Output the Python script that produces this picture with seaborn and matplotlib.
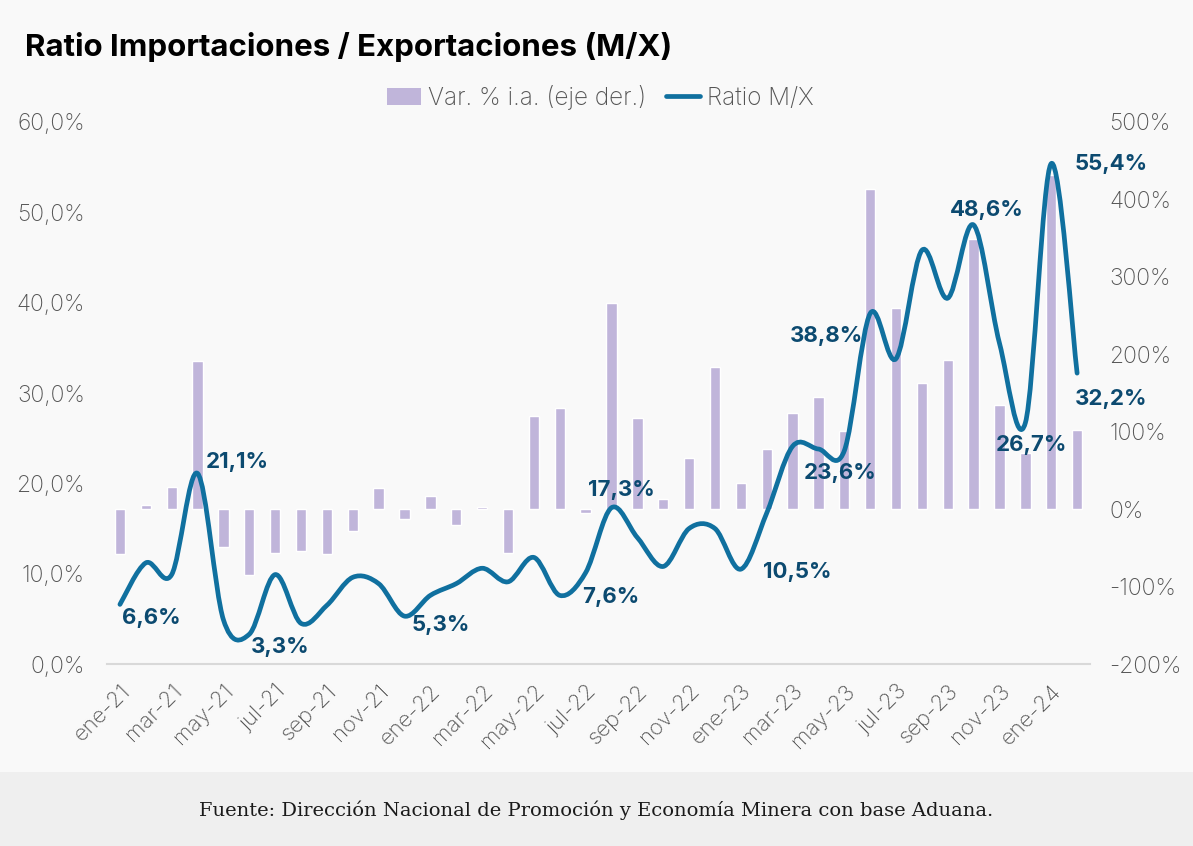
import matplotlib
matplotlib.use('Agg')
import matplotlib.pyplot as plt
import seaborn as sns
from matplotlib.path import Path
from matplotlib.patches import PathPatch, Patch
from matplotlib.lines import Line2D
from matplotlib.ticker import FuncFormatter, FixedLocator

MONTHS = ['ene-21', 'feb-21', 'mar-21', 'abr-21', 'may-21', 'jun-21', 'jul-21', 'ago-21',
          'sep-21', 'oct-21', 'nov-21', 'dic-21',
          'ene-22', 'feb-22', 'mar-22', 'abr-22', 'may-22', 'jun-22', 'jul-22', 'ago-22',
          'sep-22', 'oct-22', 'nov-22', 'dic-22',
          'ene-23', 'feb-23', 'mar-23', 'abr-23', 'may-23', 'jun-23', 'jul-23', 'ago-23',
          'sep-23', 'oct-23', 'nov-23', 'dic-23',
          'ene-24', 'feb-24']

# Ratio M/X (%), left axis
RATIO_MX = [6.6, 11.2, 9.9, 21.1, 4.9, 3.3, 9.9, 4.5, 6.5, 9.6, 8.9, 5.3,
            7.6, 8.9, 10.6, 9.1, 11.8, 7.6, 10.1, 17.3, 14.0, 10.8, 15.0, 15.0,
            10.5, 16.7, 24.1, 23.8, 23.6, 38.8, 33.8, 45.8, 40.5, 48.6, 35.5, 26.7,
            55.4, 32.2]

# Var. % i.a. (right axis)
VAR_IA = [-58, 6, 29, 191, -49, -85, -56, -54, -58, -28, 27, -13,
          17, -21, 3, -57, 120, 130, -5, 266, 118, 13, 66, 184,
          34, 78, 124, 145, 101, 413, 260, 163, 193, 349, 134, 72,
          431, 102]

# points that carry a data label
LABELED = [0, 3, 5, 11, 17, 19, 24, 28, 29, 33, 35, 36, 37]

BAR_COLOR = '#c0b5da'
LINE_COLOR = '#10709f'
LABEL_COLOR = '#0c4a70'
TICK_COLOR = '#555555'
BG = '#f9f9f9'

# label offsets in pixels (dx, dy)
LABEL_OFFSETS = {0: (31, -14), 3: (40, 11), 5: (31, -13), 11: (36, -9), 17: (51, -2),
                 19: (10, 18), 24: (56, -3), 28: (-4, -22), 29: (-44, -22),
                 33: (13, 15), 35: (6, -22), 36: (60, 0), 37: (34, -26)}


def smooth_path(xs, ys):
    """Excel-like smoothed line: cubic Bezier segments through every point."""
    pts = list(zip(xs, ys))
    n = len(pts)
    verts = [pts[0]]
    codes = [Path.MOVETO]
    for i in range(n - 1):
        p0 = pts[i - 1] if i > 0 else pts[i]
        p1 = pts[i]
        p2 = pts[i + 1]
        p3 = pts[i + 2] if i + 2 < n else pts[i + 1]
        c1 = (p1[0] + (p2[0] - p0[0]) / 6, p1[1] + (p2[1] - p0[1]) / 6)
        c2 = (p2[0] - (p3[0] - p1[0]) / 6, p2[1] - (p3[1] - p1[1]) / 6)
        verts += [c1, c2, p2]
        codes += [Path.CURVE4] * 3
    return Path(verts, codes)


def fmt_left(v, pos):
    return f'{v:.1f}%'.replace('.', ',')


def fmt_right(v, pos):
    return f'{v:.0f}%'


sns.set_theme(style='white')
plt.rcParams['font.family'] = ['Inter', 'DejaVu Sans']

fig = plt.figure(figsize=(11.93, 8.46), dpi=100, facecolor=BG)
ax = fig.add_axes([0.0897, 0.2151, 0.8240, 0.6407])
ax2 = ax.twinx()

# bars on the right axis
sns.barplot(x=list(range(len(MONTHS))), y=VAR_IA, ax=ax2, color=BAR_COLOR,
            width=0.4, saturation=1)
ax2.set_ylim(-200, 500)
ax2.yaxis.set_major_locator(FixedLocator(list(range(-200, 501, 100))))
ax2.yaxis.set_major_formatter(FuncFormatter(fmt_right))
ax2.set_ylabel('')

# smoothed ratio line on the left axis, drawn above the bars
ax.set_zorder(ax2.get_zorder() + 1)
ax.patch.set_visible(False)
ax2.patch.set_facecolor(BG)
xs = list(range(len(MONTHS)))
ax.add_patch(PathPatch(smooth_path(xs, RATIO_MX), facecolor='none',
                       edgecolor=LINE_COLOR, linewidth=3.4, capstyle='round',
                       joinstyle='round'))
ax.set_ylim(0, 60)
ax.set_xlim(-0.5, len(MONTHS) - 0.5)
ax2.set_xlim(-0.5, len(MONTHS) - 0.5)
ax.yaxis.set_major_locator(FixedLocator(list(range(0, 61, 10))))
ax.yaxis.set_major_formatter(FuncFormatter(fmt_left))

for i in LABELED:
    dx, dy = LABEL_OFFSETS[i]
    ax.annotate(f'{RATIO_MX[i]:.1f}%'.replace('.', ','), xy=(i, RATIO_MX[i]),
                xytext=(dx, dy), textcoords='offset pixels', ha='center', va='center',
                fontsize=16, fontweight='bold', color=LABEL_COLOR)

ax.set_xticks(xs[::2])
ax.set_xticklabels(MONTHS[::2], rotation=45, ha='right', rotation_mode='anchor')
ax2.tick_params(axis='x', bottom=False, labelbottom=False)

for a in (ax, ax2):
    for s in a.spines.values():
        s.set_visible(False)
ax.spines['bottom'].set_visible(True)
ax.spines['bottom'].set_color('#d9d9d9')
ax.spines['bottom'].set_linewidth(1.5)

ax.tick_params(axis='y', labelsize=16.5, labelcolor=TICK_COLOR, length=0, pad=16)
ax.tick_params(axis='x', labelsize=16, labelcolor=TICK_COLOR, length=0, pad=12)
ax2.tick_params(axis='y', labelsize=16.5, labelcolor=TICK_COLOR, length=0, pad=14)
for lab in ax.get_yticklabels() + ax.get_xticklabels() + ax2.get_yticklabels():
    lab.set_fontweight('light')

fig.text(0.021, 0.945, 'Ratio Importaciones / Exportaciones (M/X)', fontsize=22.5,
         fontweight='bold', color='black', ha='left', va='center')

handles = [Patch(facecolor=BAR_COLOR, edgecolor='none'),
           Line2D([0], [0], color=LINE_COLOR, linewidth=3.4, solid_capstyle='round')]
fig.legend(handles, ['Var. % i.a. (eje der.)', 'Ratio M/X'], loc='center',
           bbox_to_anchor=(0.503, 0.885), ncol=2, frameon=False,
           labelcolor=TICK_COLOR, handlelength=1.4, handletextpad=0.3,
           columnspacing=0.8, prop={'weight': 'light', 'size': 17.5})

# footer band with source
fig.patches.append(plt.Rectangle((0, 0), 1, 74 / 846, transform=fig.transFigure,
                                 facecolor='#efefef', edgecolor='none', zorder=0))
fig.text(0.5, 1 - 810 / 846, 'Fuente: Dirección Nacional de Promoción y Economía Minera con base Aduana.',
         fontsize=14, family=['DejaVu Serif'], color='#1a1a1a', ha='center', va='center')

fig.savefig('out.png', dpi=100, facecolor=BG)
